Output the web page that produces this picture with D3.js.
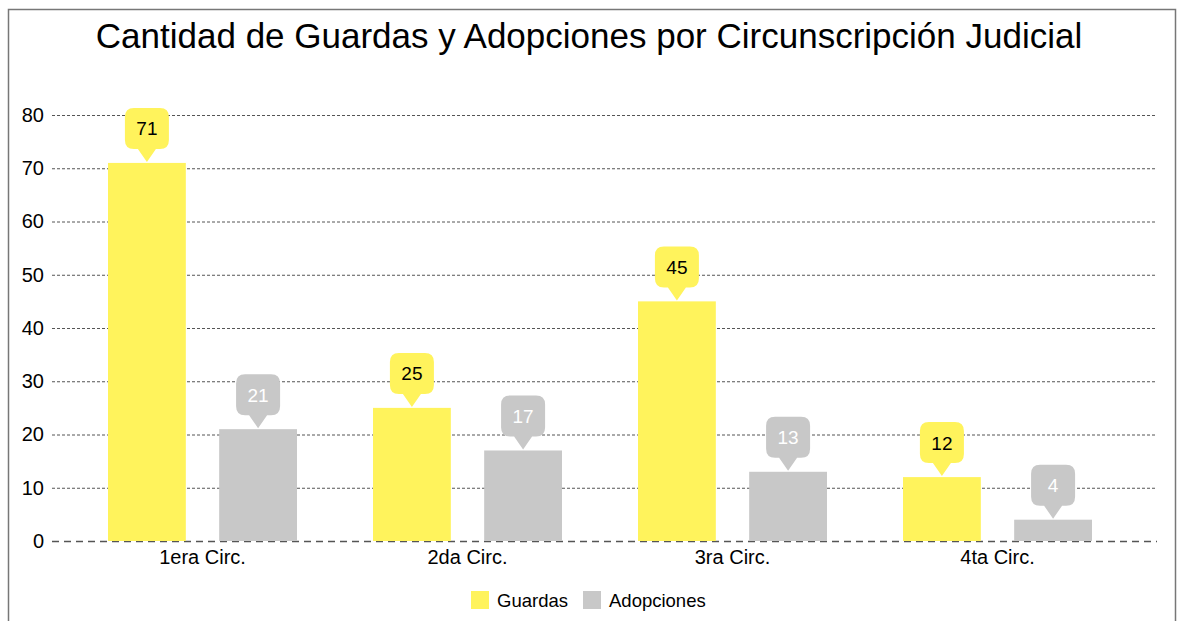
<!DOCTYPE html>
<html><head><meta charset="utf-8">
<script src="https://cdn.jsdelivr.net/npm/d3@7"></script>
<style>body{margin:0;background:#fff;}svg{display:block;font-family:"Liberation Sans",Arial,sans-serif;}</style>
</head><body>
<svg id="c" width="1178" height="621"></svg>
<script>
const categories = ["1era Circ.", "2da Circ.", "3ra Circ.", "4ta Circ."];
const seriesNames = ["Guardas", "Adopciones"];
const guardas = [71, 25, 45, 12];
const adopciones = [21, 17, 13, 4];
const yTicks = [0, 10, 20, 30, 40, 50, 60, 70, 80];
const colors = ["#FFF35C", "#C8C8C8"];
const labelColors = ["#000", "#fff"];

const svg = d3.select("#c");
svg.append("rect").attr("x", 8.5).attr("y", 9.5).attr("width", 1167).attr("height", 640)
  .attr("fill", "#fff").attr("stroke", "#777").attr("stroke-width", 1.5);

svg.append("text").attr("x", 589).attr("y", 48).attr("text-anchor", "middle")
  .attr("font-size", 35).attr("fill", "#000").text("Cantidad de Guardas y Adopciones por Circunscripción Judicial");

const y = d3.scaleLinear().domain([0, 80]).range([541, 115]);
const x0 = d3.scaleBand().domain(categories).range([70, 1130]).paddingInner(0).paddingOuter(0);
const x1 = d3.scaleBand().domain(seriesNames).range([38, 227]).paddingInner(0.3);

// grid
const gridL = 52, gridR = 1157;
yTicks.forEach(t => {
  svg.append("line").attr("x1", gridL).attr("x2", gridR).attr("y1", y(t) + 0.5).attr("y2", y(t) + 0.5)
    .attr("stroke", "#555").attr("stroke-width", t === 0 ? 1.3 : 1)
    .attr("stroke-dasharray", t === 0 ? "7,5" : "3,2");
});

// y axis labels
const yAxis = d3.axisLeft(y).tickValues(yTicks).tickSize(0).tickPadding(8);
const ga = svg.append("g").attr("transform", `translate(${gridL},0)`).call(yAxis);
ga.select(".domain").remove();
ga.selectAll("text").attr("font-size", 20).attr("fill", "#000").attr("font-family", "Liberation Sans, Arial, sans-serif");

// x axis labels
const xAxis = d3.axisBottom(x0).tickSize(0).tickPadding(9);
const gx = svg.append("g").attr("transform", `translate(0,541)`).call(xAxis);
gx.select(".domain").remove();
gx.selectAll("text").attr("font-size", 20).attr("fill", "#000").attr("font-family", "Liberation Sans, Arial, sans-serif");

const data = categories.map((c, i) => ({cat: c, vals: [guardas[i], adopciones[i]]}));

data.forEach(d => {
  d.vals.forEach((v, si) => {
    const bx = x0(d.cat) + x1(seriesNames[si]);
    const bw = x1.bandwidth();
    svg.append("rect").attr("x", bx).attr("y", y(v)).attr("width", bw).attr("height", y(0) - y(v))
      .attr("fill", colors[si]);
    // callout
    const cx = bx + bw / 2;
    const tip = y(v) - 1;
    const bh = 41, bwid = 44, r = 9, ph = 13, pw = 9;
    const top = tip - ph - bh;
    const l = cx - bwid / 2, rr = cx + bwid / 2, bot = tip - ph;
    const path = `M${l + r},${top} H${rr - r} Q${rr},${top} ${rr},${top + r} V${bot - r} Q${rr},${bot} ${rr - r},${bot}
      H${cx + pw} L${cx},${tip} L${cx - pw},${bot} H${l + r} Q${l},${bot} ${l},${bot - r} V${top + r} Q${l},${top} ${l + r},${top} Z`;
    svg.append("path").attr("d", path).attr("fill", colors[si]);
    svg.append("text").attr("x", cx).attr("y", top + bh / 2 + 7).attr("text-anchor", "middle")
      .attr("font-size", 19).attr("fill", labelColors[si]).text(v);
  });
});

// legend
const leg = [{n: "Guardas", x: 471}, {n: "Adopciones", x: 583}];
leg.forEach((l, i) => {
  svg.append("rect").attr("x", l.x).attr("y", 591).attr("width", 18).attr("height", 18).attr("fill", colors[i]);
  svg.append("text").attr("x", l.x + 26).attr("y", 607).attr("font-size", 18.5).attr("fill", "#000").text(l.n);
});
</script>
</body></html>
